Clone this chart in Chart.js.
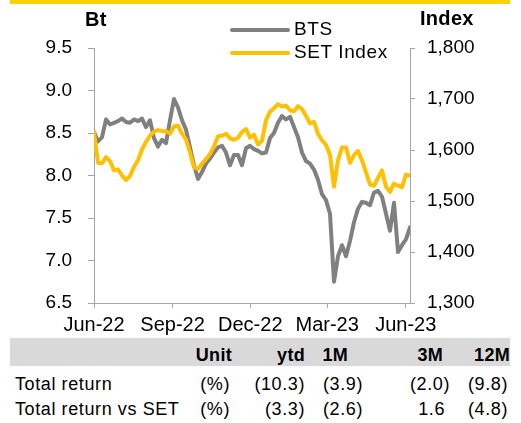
<!DOCTYPE html>
<html>
<head>
<meta charset="utf-8">
<script src="https://cdn.jsdelivr.net/npm/chart.js@4.4.1/dist/chart.umd.min.js"></script>
<style>
  body { margin: 0; background: #fff; font-family: 'Liberation Sans', Arial, sans-serif; color: #000; }
  #wrap { position: relative; width: 521px; height: 423px; overflow: hidden; }
  #chart { position: absolute; left: 0; top: 0; }
  .topbar { position: absolute; left: 10px; top: 0; width: 500px; height: 4px; background: #ffd200; }
  .t { position: absolute; white-space: nowrap; line-height: 1; transform: translateY(-50%); letter-spacing: 0.6px; }
  .b { font-weight: bold; letter-spacing: 0.3px; }
  .band { position: absolute; left: 10px; top: 338px; width: 500px; height: 28px; background: #d9d9d9; }
  .leg { position: absolute; height: 4px; border-radius: 2px; }
</style>
</head>
<body>
<div id="wrap">
  <div class="topbar"></div>
  <canvas id="chart" width="521" height="340"></canvas>
  <div class="band"></div>
</div>
<script>
// weekly-ish closes, Jun-22 .. early Jun-23
const bts = [8.51, 8.40, 8.45, 8.66, 8.60, 8.62, 8.64, 8.67, 8.63, 8.62,
  8.66, 8.64, 8.67, 8.57, 8.65, 8.44, 8.34, 8.42, 8.38, 8.65,
  8.90, 8.80, 8.65, 8.54, 8.33, 8.12, 7.96, 8.04, 8.14, 8.20,
  8.27, 8.33, 8.35, 8.27, 8.12, 8.24, 8.24, 8.12, 8.32, 8.35,
  8.31, 8.29, 8.26, 8.27, 8.44, 8.50, 8.62, 8.70, 8.66, 8.69,
  8.57, 8.45, 8.27, 8.17, 8.14, 8.07, 7.95, 7.78, 7.71, 7.55,
  6.75, 7.05, 7.18, 7.05, 7.23, 7.45, 7.61, 7.69, 7.68, 7.65,
  7.80, 7.82, 7.75, 7.55, 7.35, 7.68, 7.10, 7.18, 7.25, 7.39];
const setIndex = [1635, 1575, 1574, 1586, 1578, 1560, 1562, 1550, 1541, 1549,
  1567, 1580, 1601, 1616, 1628, 1636, 1639, 1637, 1637, 1632,
  1646, 1648, 1632, 1621, 1595, 1566, 1563, 1573, 1582, 1592,
  1607, 1627, 1628, 1632, 1623, 1620, 1624, 1635, 1641, 1624,
  1630, 1611, 1618, 1658, 1675, 1682, 1690, 1685, 1687, 1678,
  1676, 1686, 1680, 1667, 1652, 1655, 1632, 1619, 1610, 1590,
  1528, 1580, 1605, 1605, 1575, 1590, 1598, 1580, 1556, 1532,
  1530, 1545, 1560, 1528, 1518, 1534, 1530, 1527, 1552, 1550];

const totalDays = 370; // 1 Jun 2022 -> ~6 Jun 2023
const monthLabels = ['Jun-22', 'Sep-22', 'Dec-22', 'Mar-23', 'Jun-23'];
const monthDays = [0, 92, 183, 273, 365];

const headers = ['Unit', 'ytd', '1M', '3M', '12M'];
const rowLabels = ['Total return', 'Total return vs SET'];
const totalReturn = ['(%)', '(10.3)', '(3.9)', '(2.0)', '(9.8)'];
const vsSet = ['(%)', '(3.3)', '(2.6)', '1.6', '(4.8)'];

const FONT = "'Liberation Sans', Arial, sans-serif";
const GREY = '#808080';
const GOLD = '#ffc000';
const AXIS = '#a6a6a6';

const step = totalDays / (bts.length - 1);
const btsPts = bts.map((v, i) => ({ x: i * step, y: v }));
const setPts = setIndex.map((v, i) => ({ x: i * step, y: v }));

const wrap = document.getElementById('wrap');
function txt(s, x, y, opts = {}) {
  const d = document.createElement('div');
  d.className = 't' + (opts.bold ? ' b' : '');
  d.textContent = s;
  d.style.fontSize = (opts.size || 18) + 'px';
  d.style.top = y + 'px';
  if (opts.right) d.style.right = (521 - x) + 'px';
  else d.style.left = x + 'px';
  wrap.appendChild(d);
}

new Chart(document.getElementById('chart'), {
  type: 'line',
  data: {
    datasets: [
      { label: 'SET Index', data: setPts, yAxisID: 'y1', borderColor: GOLD, borderWidth: 4 },
      { label: 'BTS', data: btsPts, yAxisID: 'y', borderColor: GREY, borderWidth: 4 }
    ]
  },
  options: {
    responsive: false,
    animation: false,
    devicePixelRatio: 1,
    layout: { padding: { top: 48, left: 0, right: 0, bottom: 0 } },
    elements: {
      point: { radius: 0 },
      line: { tension: 0, borderJoinStyle: 'round', borderCapStyle: 'round' }
    },
    plugins: { legend: { display: false }, tooltip: { enabled: false } },
    scales: {
      x: {
        type: 'linear', min: 0, max: totalDays,
        afterFit(s) { s.height = 37; },
        afterBuildTicks(s) { s.ticks = monthDays.map(v => ({ value: v })); },
        grid: { drawOnChartArea: false, tickLength: 5, color: AXIS },
        border: { color: AXIS },
        ticks: {
          padding: 5, color: '#000', maxRotation: 0, autoSkip: false,
          font: { family: FONT, size: 20 },
          callback: (v) => monthLabels[monthDays.indexOf(v)]
        }
      },
      y: {
        position: 'left', min: 6.5, max: 9.5,
        afterFit(s) { s.width = 94; },
        grid: { drawOnChartArea: false, tickLength: 6, color: AXIS },
        border: { color: AXIS },
        ticks: {
          stepSize: 0.5, padding: 16, color: '#000',
          font: { family: FONT, size: 19 },
          callback: (v) => v.toFixed(1)
        }
      },
      y1: {
        position: 'right', min: 1300, max: 1800,
        afterFit(s) { s.width = 111; },
        grid: { drawOnChartArea: false, tickLength: 5, color: AXIS },
        border: { color: AXIS },
        ticks: {
          stepSize: 100, padding: 12, color: '#000',
          font: { family: FONT, size: 19 },
          callback: (v) => v.toLocaleString('en-US')
        }
      }
    }
  }
});

// axis titles
txt('Bt', 85, 19, { bold: true, size: 20 });
txt('Index', 420, 18, { bold: true, size: 20 });

// legend
const legItems = [['BTS', GREY, 28, 30], ['SET Index', GOLD, 51, 53]];
legItems.forEach(([name, col, ty, ly]) => {
  const l = document.createElement('div');
  l.className = 'leg';
  l.style.left = '230px'; l.style.width = '60px';
  l.style.top = (ly - 2) + 'px'; l.style.background = col;
  wrap.appendChild(l);
  txt(name, 294, ty, { size: 19 });
});

// table
const headRight = [232, 305, 348, 443, 510];
headers.forEach((h, i) => txt(h, headRight[i], 355, { bold: true, right: true }));
const rowY = [384, 409];
const cellRight = [[230, 305, 363, 450, 508], [230, 305, 363, 445, 508]];
[totalReturn, vsSet].forEach((row, r) => {
  txt(rowLabels[r], 15, rowY[r]);
  row.forEach((v, i) => txt(v, cellRight[r][i], rowY[r], { right: true }));
});
</script>
</body>
</html>
